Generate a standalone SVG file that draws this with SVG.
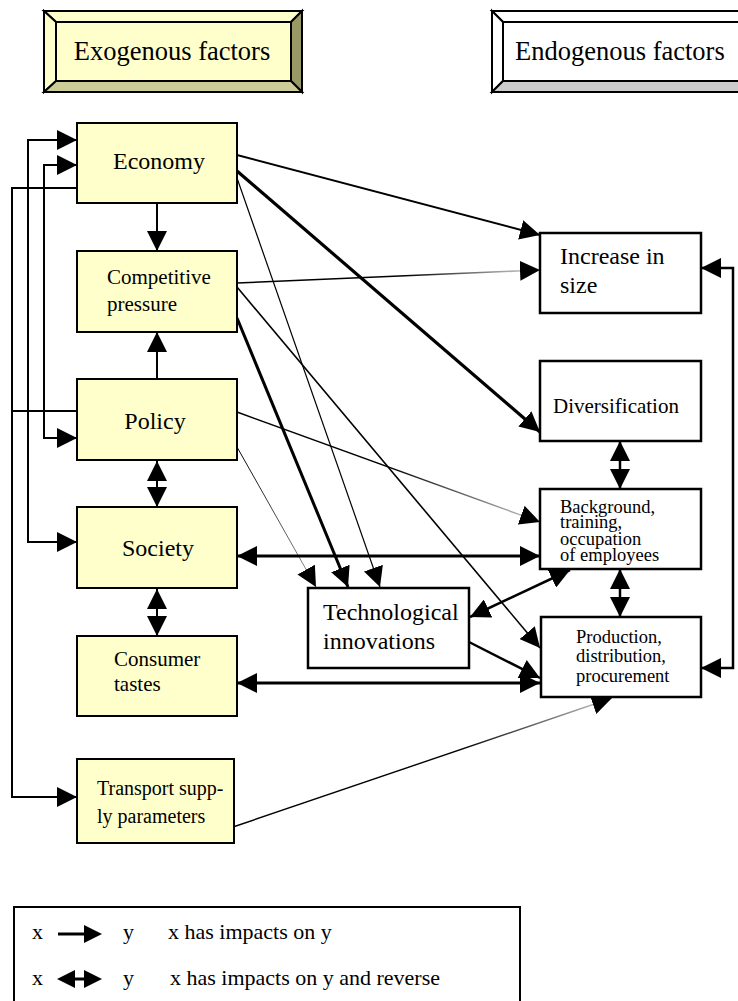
<svg xmlns="http://www.w3.org/2000/svg" width="738" height="1001" viewBox="0 0 738 1001">
<style>
.exo{fill:#FFFFCC;stroke:#000;stroke-width:2}
.endo{fill:#FFFFFF;stroke:#000;stroke-width:2.5}
.t{font-family:"Liberation Serif","Times New Roman",serif;fill:#000}
.c{fill:none;stroke:#000;stroke-width:2}
.e{marker-end:url(#a)}
.b{marker-start:url(#a);marker-end:url(#a)}
.bev{stroke:#000;stroke-width:2;stroke-linejoin:miter}
</style>
<defs>
<marker id="a" markerUnits="userSpaceOnUse" markerWidth="20" markerHeight="20" viewBox="0 0 20 20" refX="20" refY="10" orient="auto-start-reverse"><path d="M0,0L20,10L0,20z" fill="#000"/></marker>
<linearGradient id="g1" gradientUnits="userSpaceOnUse" x1="237" y1="283" x2="540" y2="270"><stop offset="0" stop-color="#000"/><stop offset="0.55" stop-color="#000"/><stop offset="1" stop-color="#ddd"/></linearGradient>
<linearGradient id="g2" gradientUnits="userSpaceOnUse" x1="237" y1="412" x2="540" y2="522"><stop offset="0" stop-color="#000"/><stop offset="0.5" stop-color="#000"/><stop offset="1" stop-color="#ccc"/></linearGradient>
<linearGradient id="g3" gradientUnits="userSpaceOnUse" x1="237" y1="447" x2="316" y2="587"><stop offset="0" stop-color="#000"/><stop offset="1" stop-color="#999"/></linearGradient>
<linearGradient id="g4" gradientUnits="userSpaceOnUse" x1="233" y1="827" x2="612" y2="698"><stop offset="0" stop-color="#000"/><stop offset="0.6" stop-color="#000"/><stop offset="1" stop-color="#ccc"/></linearGradient>
</defs>
<rect width="738" height="1001" fill="#fff"/>

<g id="header-exogenous">
<polygon class="bev" points="44,11 302,11 291,22 56,22" fill="#FFFFCC"/>
<polygon class="bev" points="44,11 56,22 56,81 44,92" fill="#FFFFCC"/>
<polygon class="bev" points="302,11 302,92 291,81 291,22" fill="#999966"/>
<polygon class="bev" points="44,92 56,81 291,81 302,92" fill="#CCCC99"/>
<rect x="56" y="22" width="235" height="59" fill="#FFFFCC" stroke="#000" stroke-width="2"/>
<text class="t" x="172" y="60" font-size="26.5" text-anchor="middle">Exogenous factors</text>
</g>

<g id="header-endogenous">
<polygon class="bev" points="492,11 752,11 741,22 503,22" fill="#FFFFFF"/>
<polygon class="bev" points="492,11 503,22 503,81 492,92" fill="#FFFFFF"/>
<polygon class="bev" points="752,11 752,92 741,81 741,22" fill="#999999"/>
<polygon class="bev" points="492,92 503,81 741,81 752,92" fill="#CCCCCC"/>
<rect x="503" y="22" width="238" height="59" fill="#FFFFFF" stroke="#000" stroke-width="2"/>
<text class="t" x="515" y="60" font-size="26.5">Endogenous factors</text>
</g>

<g id="connectors">
<path class="c e" d="M157,203V251"/>
<path class="c e" d="M157,379V332"/>
<path class="c b" d="M157,461V507"/>
<path class="c b" d="M157,589V636"/>
<path class="c e" d="M77,188H12V797H77"/>
<path class="c" d="M77,411H12"/>
<path class="c b" d="M77,140H28V542H77"/>
<path class="c b" d="M77,165H44V438H77"/>
<path class="c e" d="M237,155L540,235"/>
<path class="c e" style="stroke-width:3.2" d="M237,171L540,432"/>
<path class="c e" style="stroke-width:1.2" d="M237,178L380,587"/>
<path class="c e" style="stroke:url(#g1);stroke-width:1.6" d="M237,283L540,270"/>
<path class="c e" style="stroke-width:1.6" d="M237,287L540,648"/>
<path class="c e" style="stroke-width:3" d="M237,318L348,587"/>
<path class="c e" style="stroke:url(#g2);stroke-width:1.4" d="M237,412L540,522"/>
<path class="c e" style="stroke:url(#g3);stroke-width:1" d="M237,447L316,587"/>
<path class="c b" style="stroke-width:3.2" d="M237,556H540"/>
<path class="c b" style="stroke-width:3.2" d="M237,683H540"/>
<path class="c b" style="stroke-width:2.5" d="M470,617L570,570"/>
<path class="c e" style="stroke-width:2.5" d="M469,642L540,678"/>
<path class="c e" style="stroke:url(#g4);stroke-width:1.4" d="M233,827L612,698"/>
<path class="c b" style="stroke-width:2.5" d="M620,441V489"/>
<path class="c b" style="stroke-width:2.5" d="M620,569V617"/>
<path class="c b" style="stroke-width:2.5" d="M701,268H733V668H701"/>
</g>

<g id="node-economy">
<rect class="exo" x="77" y="123" width="160" height="80"/>
<text class="t" x="159" y="169" font-size="24" text-anchor="middle">Economy</text>
</g>
<g id="node-competitive">
<rect class="exo" x="77" y="251" width="160" height="81"/>
<text class="t" x="107" y="284" font-size="21">Competitive</text>
<text class="t" x="107" y="311" font-size="21">pressure</text>
</g>
<g id="node-policy">
<rect class="exo" x="77" y="379" width="160" height="81"/>
<text class="t" x="155" y="429" font-size="24" text-anchor="middle">Policy</text>
</g>
<g id="node-society">
<rect class="exo" x="77" y="507" width="160" height="81"/>
<text class="t" x="158" y="556" font-size="24" text-anchor="middle">Society</text>
</g>
<g id="node-consumer">
<rect class="exo" x="77" y="636" width="160" height="80"/>
<text class="t" x="114" y="666" font-size="21">Consumer</text>
<text class="t" x="114" y="691" font-size="21">tastes</text>
</g>
<g id="node-transport">
<rect class="exo" x="77" y="759" width="157" height="84"/>
<text class="t" x="97" y="795" font-size="20">Transport supp-</text>
<text class="t" x="97" y="823" font-size="20">ly parameters</text>
</g>
<g id="node-tech">
<rect class="endo" x="308" y="588" width="161" height="80"/>
<text class="t" x="323" y="620" font-size="24">Technological</text>
<text class="t" x="323" y="649" font-size="24">innovations</text>
</g>
<g id="node-increase">
<rect class="endo" x="540" y="233" width="161" height="80"/>
<text class="t" x="560" y="264" font-size="24">Increase in</text>
<text class="t" x="560" y="293" font-size="24">size</text>
</g>
<g id="node-diversification">
<rect class="endo" x="540" y="361" width="161" height="80"/>
<text class="t" x="553" y="413" font-size="21">Diversification</text>
</g>
<g id="node-background">
<rect class="endo" x="540" y="489" width="161" height="80"/>
<text class="t" x="560" y="513" font-size="18.5">Background,</text>
<text class="t" x="560" y="528" font-size="18.5">training,</text>
<text class="t" x="560" y="545" font-size="18.5">occupation</text>
<text class="t" x="560" y="561" font-size="18.5">of employees</text>
</g>
<g id="node-production">
<rect class="endo" x="541" y="617" width="160" height="80"/>
<text class="t" x="576" y="643" font-size="18.5">Production,</text>
<text class="t" x="576" y="662" font-size="18.5">distribution,</text>
<text class="t" x="576" y="682" font-size="18.5">procurement</text>
</g>

<g id="legend">
<rect x="14" y="907" width="506" height="110" fill="none" stroke="#000" stroke-width="2"/>
<text class="t" x="32" y="939" font-size="22">x</text>
<path d="M58,934H86" stroke="#000" stroke-width="3"/>
<path d="M84,925L102,934L84,943z" fill="#000"/>
<text class="t" x="123" y="939" font-size="22">y</text>
<text class="t" x="168" y="939" font-size="22">x has impacts on y</text>
<text class="t" x="32" y="985" font-size="22">x</text>
<path d="M72,979H86" stroke="#000" stroke-width="3"/>
<path d="M57,979L75,970L75,988z" fill="#000"/>
<path d="M84,970L102,979L84,988z" fill="#000"/>
<text class="t" x="123" y="985" font-size="22">y</text>
<text class="t" x="170" y="985" font-size="22">x has impacts on y and reverse</text>
</g>
</svg>
